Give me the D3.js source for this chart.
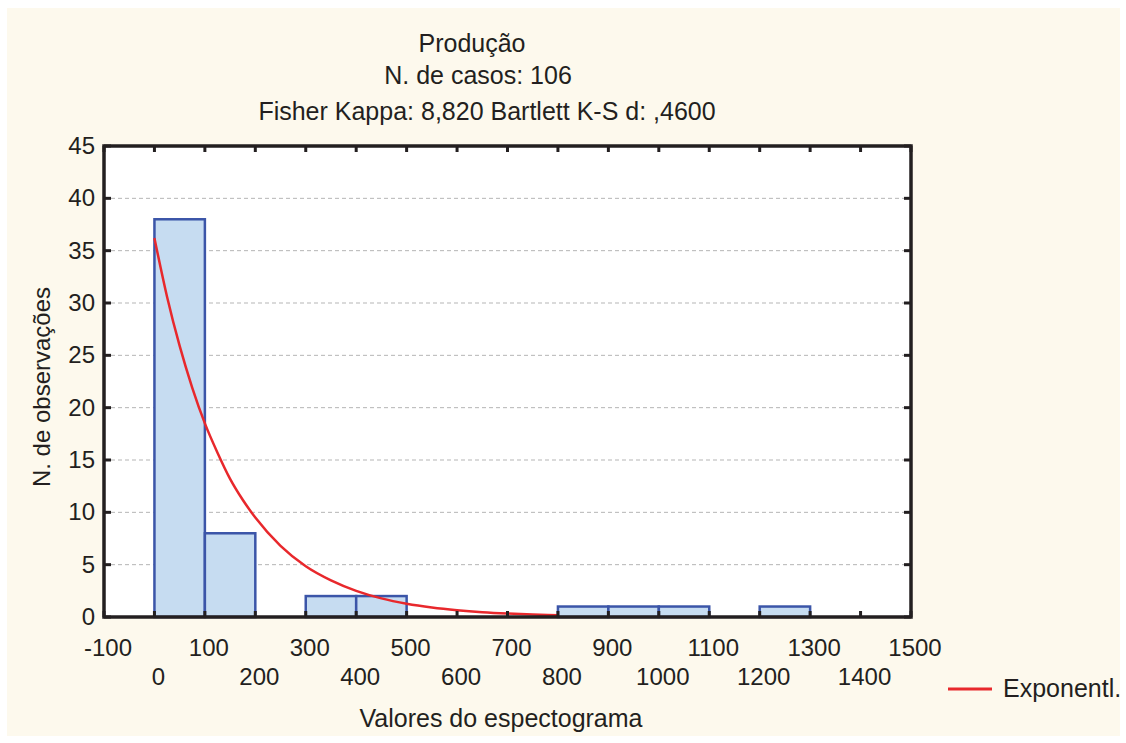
<!DOCTYPE html>
<html><head><meta charset="utf-8">
<script src="https://cdn.jsdelivr.net/npm/d3@7"></script>
<style>html,body{margin:0;padding:0;background:#fff;}svg{display:block;}</style>
</head><body>
<svg id="c" width="1126" height="743"></svg>
<script>
// ---- data ----
const binStarts = [0, 100, 200, 300, 400, 500, 600, 700, 800, 900, 1000, 1100, 1200];
const binCounts = [38, 8, 0, 2, 2, 0, 0, 0, 1, 1, 1, 0, 1];
const binWidth = 100;
const curveX = [0, 25, 50, 75, 100, 125, 150, 175, 200, 250, 300, 350, 400, 450, 500, 550, 600, 650, 700, 750, 800];
const curveY = [36.2, 30.6, 25.9, 21.9, 18.5, 15.7, 13.2, 11.2, 9.5, 6.8, 4.85, 3.5, 2.5, 1.78, 1.27, 0.91, 0.65, 0.46, 0.33, 0.24, 0.17];
const xTicks = [-100, 0, 100, 200, 300, 400, 500, 600, 700, 800, 900, 1000, 1100, 1200, 1300, 1400, 1500];
const yTicks = [0, 5, 10, 15, 20, 25, 30, 35, 40, 45];
const titleLines = ["Produção", "N. de casos: 106", "Fisher Kappa: 8,820 Bartlett K-S d: ,4600"];
const xTitle = "Valores do espectograma";
const yTitle = "N. de observações";
const legendLabel = "Exponentl.";

// ---- layout ----
const L = 104, R = 911, T = 146, B = 617;
const x = d3.scaleLinear().domain([-100, 1500]).range([L, R]);
const y = d3.scaleLinear().domain([0, 45]).range([B, T]);
const font = "'Liberation Sans', Arial, sans-serif";
const ink = "#231f20";

const svg = d3.select("#c");
svg.append("rect").attr("x", 7).attr("y", 8).attr("width", 1113).attr("height", 728).attr("fill", "#fdf9ed");
svg.append("rect").attr("x", L).attr("y", T).attr("width", R - L).attr("height", B - T).attr("fill", "#fff");

// gridlines
const gridTicks = yTicks.filter(d => d > 0 && d < 45);
svg.append("g").selectAll("line").data(gridTicks).join("line")
  .attr("x1", L).attr("x2", R).attr("y1", d => y(d)).attr("y2", d => y(d))
  .attr("stroke", "#b5b5b5").attr("stroke-width", 1).attr("stroke-dasharray", "4,3");

// bars
const bars = binStarts.map((s, i) => ({ s, c: binCounts[i] })).filter(d => d.c > 0);
svg.append("g").selectAll("rect").data(bars).join("rect")
  .attr("x", d => x(d.s)).attr("width", d => x(d.s + binWidth) - x(d.s))
  .attr("y", d => y(d.c)).attr("height", d => y(0) - y(d.c))
  .attr("fill", "#c6dcf1").attr("stroke", "#3b55a8").attr("stroke-width", 2.5);

// curve
const line = d3.line().x(d => x(d[0])).y(d => y(d[1])).curve(d3.curveMonotoneX);
svg.append("path").datum(curveX.map((v, i) => [v, curveY[i]]))
  .attr("d", line).attr("fill", "none").attr("stroke", "#e8282c").attr("stroke-width", 2.5);

// ticks
const tk = svg.append("g").attr("stroke", ink).attr("stroke-width", 3);
tk.selectAll(".xb").data(xTicks).join("line").attr("x1", d => x(d)).attr("x2", d => x(d)).attr("y1", B).attr("y2", B - 6);
tk.selectAll(".xt").data(xTicks).join("line").attr("x1", d => x(d)).attr("x2", d => x(d)).attr("y1", T).attr("y2", T + 6);
tk.selectAll(".yl").data(yTicks).join("line").attr("x1", L).attr("x2", L + 7).attr("y1", d => y(d)).attr("y2", d => y(d));
tk.selectAll(".yr").data(yTicks).join("line").attr("x1", R).attr("x2", R - 7).attr("y1", d => y(d)).attr("y2", d => y(d));

// frame
svg.append("rect").attr("x", L).attr("y", T).attr("width", R - L).attr("height", B - T)
  .attr("fill", "none").attr("stroke", ink).attr("stroke-width", 3.5);

// tick labels
const tl = svg.append("g").attr("font-family", font).attr("font-size", 24).attr("fill", ink);
tl.selectAll(".xl").data(xTicks).join("text")
  .attr("x", d => x(d) + 4)
  .attr("y", (d, i) => (i % 2 === 0 ? 656 : 685))
  .attr("text-anchor", "middle").text(d => d);
tl.selectAll(".ylab").data(yTicks).join("text")
  .attr("x", 95).attr("y", d => y(d) + 8).attr("text-anchor", "end").text(d => d);

// titles
const tt = svg.append("g").attr("font-family", font).attr("font-size", 25).attr("fill", ink).attr("text-anchor", "middle");
const titleY = [52, 84, 120];
const titleX = [472, 478, 487];
titleLines.forEach((t, i) => tt.append("text").attr("x", titleX[i]).attr("y", titleY[i]).text(t));
tt.append("text").attr("x", 501).attr("y", 727).attr("font-size", 25).text(xTitle);
tt.append("text").attr("transform", "translate(50,387) rotate(-90)").attr("font-size", 24).text(yTitle);

// legend
svg.append("line").attr("x1", 948).attr("x2", 992).attr("y1", 689).attr("y2", 689)
  .attr("stroke", "#e8282c").attr("stroke-width", 3);
svg.append("text").attr("x", 1003).attr("y", 697).attr("font-family", font).attr("font-size", 25)
  .attr("fill", ink).text(legendLabel);
</script>
</body></html>
